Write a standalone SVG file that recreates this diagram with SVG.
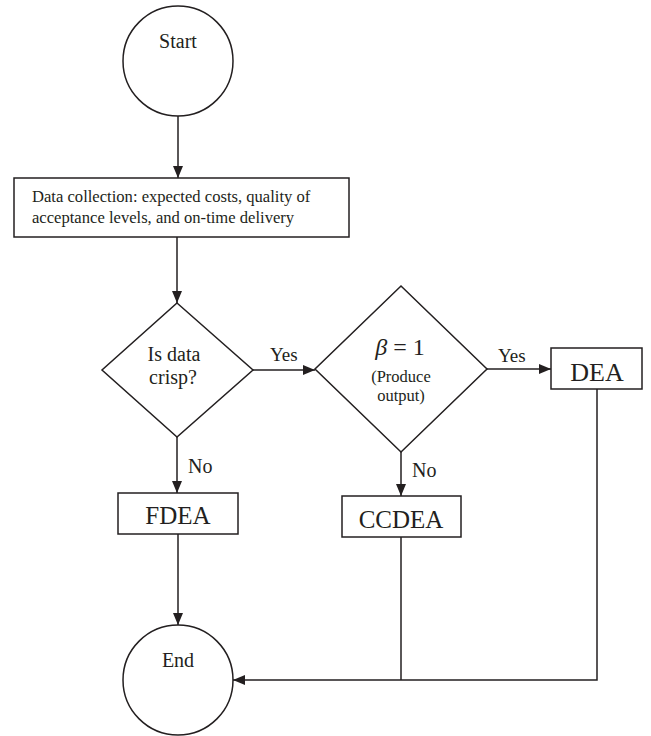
<svg xmlns="http://www.w3.org/2000/svg" width="651" height="736" viewBox="0 0 651 736">
<style>
.s{fill:#fff;stroke:#231f20;stroke-width:1.5}
.c{fill:none;stroke:#231f20;stroke-width:1.5}
text{font-family:"Liberation Serif","Times New Roman",serif;fill:#231f20}
.m{text-anchor:middle}
</style>
<defs>
<marker id="a" viewBox="0 0 12 10" refX="12" refY="5" markerWidth="12" markerHeight="10" markerUnits="userSpaceOnUse" orient="auto">
<path d="M0,0 L12,5 L0,10 Z" fill="#231f20"/>
</marker>
</defs>
<rect width="651" height="736" fill="#fff"/>
<g id="connectors">
<line class="c" x1="178" y1="116" x2="178" y2="178" marker-end="url(#a)"/>
<line class="c" x1="177" y1="237" x2="177" y2="303" marker-end="url(#a)"/>
<line class="c" x1="253" y1="370" x2="315" y2="370" marker-end="url(#a)"/>
<line class="c" x1="487" y1="369" x2="551" y2="369" marker-end="url(#a)"/>
<line class="c" x1="177" y1="437" x2="177" y2="493" marker-end="url(#a)"/>
<line class="c" x1="401" y1="452" x2="401" y2="496" marker-end="url(#a)"/>
<line class="c" x1="178" y1="534" x2="178" y2="625" marker-end="url(#a)"/>
<polyline class="c" points="597,389 597,680 233,680" marker-end="url(#a)"/>
<line class="c" x1="401" y1="537" x2="401" y2="680"/>
<text x="270" y="361" font-size="19">Yes</text>
<text x="498" y="362" font-size="19">Yes</text>
<text x="188" y="473" font-size="20">No</text>
<text x="412" y="477" font-size="20">No</text>
</g>
<g id="start">
<circle class="s" cx="178" cy="61" r="55"/>
<text class="m" x="178" y="48" font-size="20">Start</text>
</g>
<g id="data">
<rect class="s" x="14" y="178" width="335" height="59"/>
<text x="32" y="202" font-size="16.6">Data collection: expected costs, quality of</text>
<text x="32" y="223" font-size="16.6">acceptance levels, and on-time delivery</text>
</g>
<g id="crisp">
<polygon class="s" points="177,303 253,370 177,437 102,370"/>
<text class="m" x="174" y="361" font-size="20">Is data</text>
<text class="m" x="173" y="384" font-size="20">crisp?</text>
</g>
<g id="beta">
<polygon class="s" points="401,286 487,369 401,452 315,369"/>
<text class="m" x="400" y="355" font-size="24"><tspan font-style="italic">β</tspan> = 1</text>
<text class="m" x="401" y="382" font-size="16.5">(Produce</text>
<text class="m" x="401" y="401" font-size="16.5">output)</text>
</g>
<g id="dea">
<rect class="s" x="551" y="348" width="91" height="41"/>
<text class="m" x="597" y="381" font-size="26">DEA</text>
</g>
<g id="fdea">
<rect class="s" x="118" y="493" width="120" height="41"/>
<text class="m" x="178" y="524" font-size="25">FDEA</text>
</g>
<g id="ccdea">
<rect class="s" x="342" y="496" width="119" height="41"/>
<text class="m" x="401" y="528" font-size="25">CCDEA</text>
</g>
<g id="end">
<circle class="s" cx="178" cy="680" r="55"/>
<text class="m" x="178" y="667" font-size="20">End</text>
</g>
</svg>
